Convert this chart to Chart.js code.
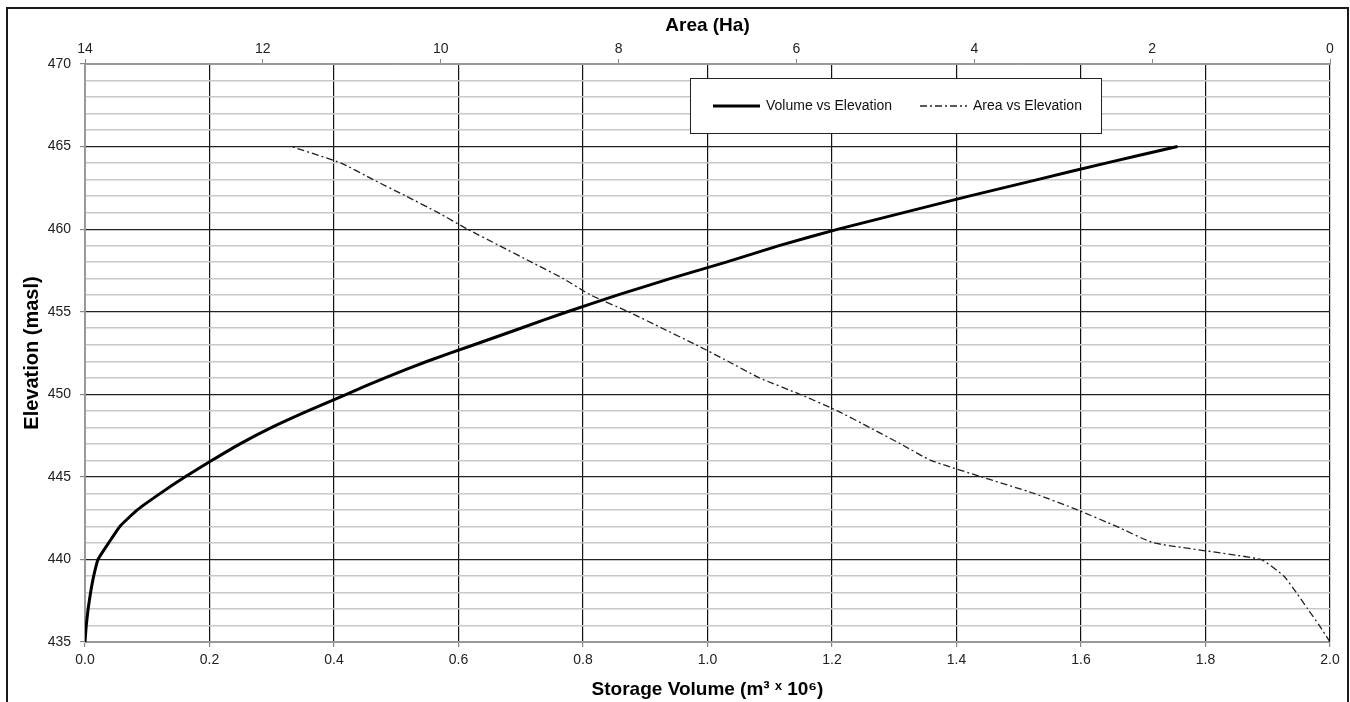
<!DOCTYPE html>
<html>
<head>
<meta charset="utf-8">
<script src="https://cdn.jsdelivr.net/npm/chart.js@4.4.1/dist/chart.umd.min.js"></script>
<style>
  html, body { margin: 0; background: #fff; overflow: hidden; }
  #frame { position: absolute; left: 6px; top: 7px; width: 1339px; height: 720px; border: 2px solid #1a1a1a; }
  canvas { position: absolute; left: 0; top: 0; }
</style>
</head>
<body>
<div id="frame"></div>
<canvas id="chart" width="1350" height="702"></canvas>
<script>
// elevation-storage-area table (masl, 10^6 m3, Ha)
const elevation = [435, 436, 437, 438, 439, 440, 441, 442, 443, 444, 445, 446, 447, 448, 449, 450,
                   451, 452, 453, 454, 455, 456, 457, 458, 459, 460, 461, 462, 463, 464, 465];
const storageVolume = [0, 0.002, 0.005, 0.009, 0.014, 0.021, 0.038, 0.056, 0.084, 0.121, 0.161, 0.204, 0.249, 0.300, 0.358, 0.420,
                       0.482, 0.550, 0.625, 0.700, 0.775, 0.855, 0.940, 1.030, 1.115, 1.210, 1.315, 1.420, 1.530, 1.640, 1.755];
const surfaceArea = [0, 0.12, 0.25, 0.38, 0.52, 0.78, 1.98, 2.40, 2.84, 3.33, 3.92, 4.49, 4.83, 5.18, 5.54, 5.96,
                     6.42, 6.77, 7.13, 7.51, 7.89, 8.31, 8.62, 8.98, 9.34, 9.70, 10.03, 10.39, 10.76, 11.12, 11.68];
const volumeTicks = [0, 0.2, 0.4, 0.6, 0.8, 1.0, 1.2, 1.4, 1.6, 1.8, 2.0];
const areaTicks = [0, 2, 4, 6, 8, 10, 12, 14];

const volumePoints = elevation.map((e, i) => ({ x: storageVolume[i], y: e }));
const areaPoints = elevation.map((e, i) => ({ x: surfaceArea[i], y: e }));

const FONT = 'Arial, "Liberation Sans", sans-serif';

// legend drawn as a boxed panel inside the plot, like the original
const legendBox = {
  id: 'legendBox',
  afterDraw(chart) {
    const ctx = chart.ctx;
    const a = chart.chartArea;
    const bx = a.left + 605, by = a.top + 14, bw = 411, bh = 55;
    ctx.save();
    ctx.fillStyle = '#fff';
    ctx.fillRect(bx, by, bw, bh);
    ctx.strokeStyle = '#222';
    ctx.lineWidth = 1;
    ctx.strokeRect(bx + 0.5, by + 0.5, bw, bh);
    const cy = by + 28;
    const starts = [bx + 23, bx + 230];
    chart.data.datasets.forEach((ds, i) => {
      const sx = starts[i];
      ctx.beginPath();
      ctx.strokeStyle = ds.borderColor;
      ctx.lineWidth = ds.borderWidth;
      ctx.setLineDash(ds.borderDash || []);
      ctx.moveTo(sx, cy);
      ctx.lineTo(sx + 47, cy);
      ctx.stroke();
      ctx.setLineDash([]);
      ctx.fillStyle = '#111';
      ctx.font = '14px ' + FONT;
      ctx.textBaseline = 'middle';
      ctx.fillText(ds.label, sx + 53, cy);
    });
    ctx.restore();
  }
};

new Chart(document.getElementById('chart'), {
  type: 'scatter',
  data: {
    datasets: [
      {
        label: 'Volume vs Elevation',
        data: volumePoints,
        xAxisID: 'x',
        yAxisID: 'y',
        showLine: true,
        borderColor: '#000',
        borderWidth: 3,
        pointRadius: 0,
        tension: 0.15
      },
      {
        label: 'Area vs Elevation',
        data: areaPoints,
        xAxisID: 'x2',
        yAxisID: 'y',
        showLine: true,
        borderColor: '#222',
        borderWidth: 1.3,
        borderDash: [7, 3, 2, 3],
        pointRadius: 0,
        tension: 0.15
      }
    ]
  },
  options: {
    responsive: false,
    animation: false,
    layout: { padding: { left: 10, right: 20, top: 10, bottom: 0 } },
    plugins: {
      legend: { display: false },
      tooltip: { enabled: false }
    },
    scales: {
      x: {
        type: 'linear',
        position: 'bottom',
        min: 0,
        max: 2,
        afterBuildTicks: s => { s.ticks = volumeTicks.map(v => ({ value: v })); },
        afterFit: s => { s.height = 60; },
        ticks: {
          callback: v => v.toFixed(1),
          color: '#222',
          font: { family: FONT, size: 14 },
          padding: 5,
          maxRotation: 0
        },
        grid: {
          color: c => c.tick && c.tick.value === 0 ? '#999' : '#111',
          lineWidth: 1.2,
          tickLength: 5,
          tickColor: '#888'
        },
        border: { color: '#999' },
        title: {
          display: true,
          text: 'Storage Volume (m³ ˣ 10⁶)',
          color: '#000',
          font: { family: FONT, size: 19, weight: 'bold' },
          padding: { top: 0, bottom: 1 }
        }
      },
      x2: {
        type: 'linear',
        position: 'top',
        reverse: true,
        min: 0,
        max: 14,
        afterBuildTicks: s => { s.ticks = areaTicks.map(v => ({ value: v })); },
        afterFit: s => { s.height = 54; },
        ticks: {
          color: '#222',
          font: { family: FONT, size: 14 },
          padding: 1,
          maxRotation: 0
        },
        grid: {
          drawOnChartArea: false,
          tickLength: 5,
          tickColor: '#888'
        },
        border: { color: '#999' },
        title: {
          display: true,
          text: 'Area (Ha)',
          color: '#000',
          font: { family: FONT, size: 19, weight: 'bold' },
          padding: { top: 4, bottom: 0 }
        }
      },
      y: {
        type: 'linear',
        min: 435,
        max: 470,
        afterFit: s => { s.width = 75; },
        ticks: {
          stepSize: 1,
          autoSkip: false,
          callback: v => (v % 5 === 0 ? String(v) : ''),
          color: '#222',
          font: { family: FONT, size: 14 },
          padding: 9
        },
        grid: {
          color: c => {
            const v = c.tick ? c.tick.value : 0;
            if (v === 435 || v === 470) return '#999';
            return v % 5 === 0 ? '#222' : '#c8c8c8';
          },
          lineWidth: c => (c.tick && c.tick.value % 5 === 0 ? 1.2 : 1.5),
          tickLength: 5,
          tickColor: c => (c.tick && c.tick.value % 5 === 0 ? '#888' : 'rgba(0,0,0,0)')
        },
        border: { color: '#999' },
        title: {
          display: true,
          text: 'Elevation (masl)',
          color: '#000',
          font: { family: FONT, size: 20, weight: 'bold' },
          padding: { top: 10, bottom: 0 }
        }
      }
    }
  },
  plugins: [legendBox]
});
</script>
</body>
</html>
